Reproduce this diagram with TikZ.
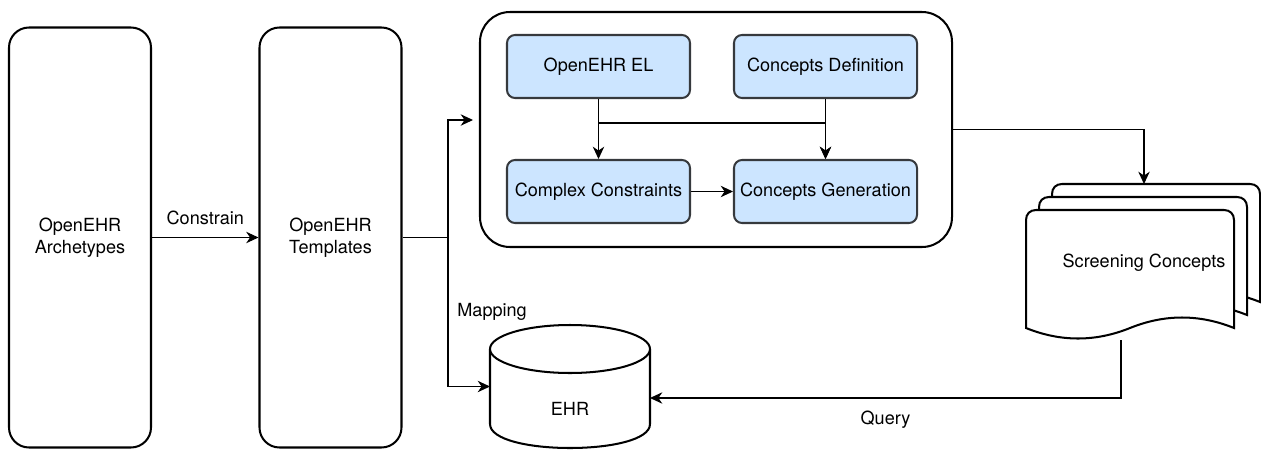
\documentclass[tikz,border=0pt]{standalone}
\usepackage{fontspec}
\setmainfont{TeX Gyre Heros}
\usetikzlibrary{arrows.meta, calc}
\definecolor{boxBlue}{RGB}{204,229,255}
\definecolor{boxBorder}{RGB}{54,57,61}
\newlength{\pxu}
\setlength{\pxu}{0.02cm}

\begin{document}
\begin{tikzpicture}[x=0.02cm, y=-0.02cm,
    font=\fontsize{10.3}{12.5}\selectfont,
    conn/.style={line width=0.6pt, -{Stealth[length=7pt, width=6.5pt, inset=2.2pt]}},
    tallBox/.style={draw, line width=1.15pt, rounded corners=20\pxu,
        minimum width=142\pxu, minimum height=420\pxu, align=center},
    groupBox/.style={draw, line width=1.15pt, rounded corners=30\pxu,
        minimum width=472\pxu, minimum height=235\pxu},
    stepBox/.style={draw=boxBorder, fill=boxBlue, line width=1.15pt, rounded corners=8\pxu,
        minimum width=183\pxu, minimum height=63\pxu, inner sep=2pt},
    docPage/.style={fill=white, draw, line width=1.15pt}]
            \useasboundingbox (0,0) rectangle (1261,450);

            % Parámetros (en px de la figura)
            \def\docw{208}  % Ancho de una hoja
            \def\doch{118}  % Altura del borde izquierdo
            \def\docs{13}   % Desplazamiento entre hojas

            % 1. MODELOS OPENEHR
            \node[tallBox] (arch) at (80,237.5) {OpenEHR\\Archetypes};
            \node[tallBox] (tpl) at (330.5,237.5) {OpenEHR\\Templates};

            % 2. BLOQUE DE CONCEPTOS
            \node[groupBox] (grp) at (716,129.5) {};
            \node[stepBox] (el) at (598.5,66.5) {OpenEHR EL};
            \node[stepBox] (cdef) at (825.5,66.5) {Concepts Definition};
            \node[stepBox] (ccon) at (598.5,191.5) {Complex Constraints};
            \node[stepBox] (cgen) at (825.5,191.5) {Concepts Generation};

            % 3. EHR (cilindro)
            \filldraw[docPage] (490,349) -- (490,424)
            .. controls (490,456) and (650,456) .. (650,424) -- (650,349);
            \filldraw[docPage] (570,349) ellipse [x radius=80, y radius=24];
            \node (ehr) at (570,409) {EHR};
            \coordinate (ehrL) at (490,386.5);
            \coordinate (ehrR) at (650,398);

            % 4. SCREENING CONCEPTS (tres hojas)
            \foreach \s in {26,13,0} {
                \filldraw[docPage, shift={(1026+\s,210-\s)}]
                (0,\doch) -- (0,10) .. controls (0,4) and (4,0) .. (10,0)
                -- (\docw-10,0) .. controls (\docw-4,0) and (\docw,4) .. (\docw,10)
                -- (\docw,\doch) .. controls (173.3,104) and (138.7,104) .. (104,\doch)
                .. controls (69.3,132) and (34.7,132) .. (0,\doch) -- cycle;
            }
            \node (scr) at (1144,263) {Screening Concepts};
            \coordinate (scrTop) at (1144,184);
            \coordinate (scrBot) at (1121,340);

            % 5. CONECTORES
            \coordinate (tplJoin) at (448,237.5);
            \coordinate (grpIn) at (473,120);
            \draw[conn] (arch) -- node[midway, yshift=20\pxu] {Constrain} (tpl);
            \draw[conn] (tpl.east) -- (tplJoin) |- (grpIn);
            \draw[conn] (tplJoin) |- node[pos=0.25, anchor=west, xshift=3\pxu] {Mapping} (ehrL);
            \draw[conn] (el) -- (ccon);
            \draw[conn] (el.south) -- ++(0,24) -| (cgen.north);
            \draw[conn] (cdef) -- (cgen);
            \draw[conn] (ccon) -- (cgen);
            \draw[conn] (grp.east) -| (scrTop);
            \draw[conn] (scrBot) |- node[pos=0.75, yshift=-22\pxu] {Query} (ehrR);
        \end{tikzpicture}
\end{document}
